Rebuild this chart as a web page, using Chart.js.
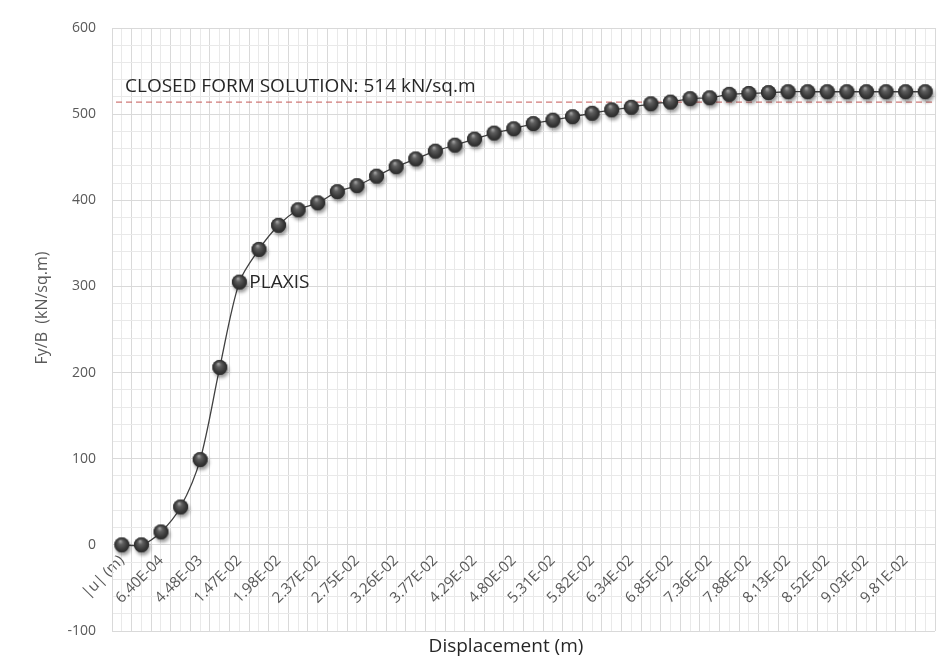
<!DOCTYPE html>
<html>
<head>
<meta charset="utf-8">
<script src="https://cdn.jsdelivr.net/npm/chart.js@4/dist/chart.umd.min.js"></script>
<style>
  html, body { margin: 0; padding: 0; background: #ffffff; }
  #wrap { width: 948px; height: 659px; position: relative; }
</style>
</head>
<body>
<div id="wrap"><canvas id="chart" width="948" height="659"></canvas></div>
<script>
// Displacement tick labels (every second load step carries a label)
const tickLabels = [
  '|u| (m)', '6.40E-04', '4.48E-03', '1.47E-02', '1.98E-02', '2.37E-02', '2.75E-02',
  '3.26E-02', '3.77E-02', '4.29E-02', '4.80E-02', '5.31E-02', '5.82E-02', '6.34E-02',
  '6.85E-02', '7.36E-02', '7.88E-02', '8.13E-02', '8.52E-02', '9.03E-02', '9.81E-02'
];

// PLAXIS footing load Fy/B (kN/sq.m) for each load step
const plaxisLoad = [
  0, 0, 15, 44, 99, 206, 305, 343, 371, 389, 397, 410, 417, 428,
  439, 448, 457, 464, 471, 478, 483, 489, 493, 497, 501, 505, 508, 512,
  514, 518, 519, 523, 524, 525, 526, 526, 526, 526, 526, 526, 526, 526
];

// Closed-form bearing capacity (kN/sq.m)
const closedForm = 514;

// Category list: one entry per load step, labelled on even steps
const categories = plaxisLoad.map((_, i) => (i % 2 === 0 ? (tickLabels[i / 2] || '') : ''));

const FONT = "'Open Sans', 'DejaVu Sans', sans-serif";

// Shaded sphere marker with a soft drop shadow
function makeSphere(r) {
  const size = Math.ceil(r * 2 + 12);
  const cv = document.createElement('canvas');
  cv.width = size; cv.height = size;
  const g = cv.getContext('2d');
  const c = size / 2;
  g.save();
  g.shadowColor = 'rgba(0,0,0,0.4)';
  g.shadowBlur = 3.5;
  g.shadowOffsetX = 1.5;
  g.shadowOffsetY = 3;
  g.beginPath(); g.arc(c, c, r, 0, Math.PI * 2);
  g.fillStyle = '#353535'; g.fill();
  g.restore();
  const grad = g.createRadialGradient(c - r * 0.2, c - r * 0.5, r * 0.05, c, c, r);
  grad.addColorStop(0, '#a4a4a4');
  grad.addColorStop(0.3, '#5e5e5e');
  grad.addColorStop(0.75, '#383838');
  grad.addColorStop(1, '#2a2a2a');
  g.beginPath(); g.arc(c, c, r, 0, Math.PI * 2);
  g.fillStyle = grad; g.fill();
  return cv;
}
const sphere = makeSphere(7.5);

// Reference line behind the curve, texts on top
const overlay = {
  id: 'overlay',
  beforeDatasetsDraw(chart) {
    const { ctx, chartArea, scales } = chart;
    const y = scales.y.getPixelForValue(closedForm);
    ctx.save();
    ctx.strokeStyle = 'rgba(196, 89, 86, 0.8)';
    ctx.lineWidth = 1.4;
    ctx.setLineDash([6, 4]);
    ctx.beginPath();
    ctx.moveTo(chartArea.left + 4, y);
    ctx.lineTo(chartArea.right - 2, y);
    ctx.stroke();
    ctx.restore();
  },
  afterDraw(chart) {
    const { ctx, chartArea, scales } = chart;
    ctx.save();
    // closed-form caption above the dashed line
    const yRef = scales.y.getPixelForValue(closedForm);
    ctx.fillStyle = '#262626';
    ctx.font = '19px ' + FONT;
    ctx.textAlign = 'left';
    ctx.textBaseline = 'middle';
    ctx.fillText('CLOSED FORM SOLUTION: ' + closedForm + ' kN/sq.m', chartArea.left + 13, yRef - 15);

    // series label next to the 7th point
    const pt = chart.getDatasetMeta(0).data[6];
    ctx.fillText('PLAXIS', pt.x + 10, pt.y);

    // axis titles
    ctx.fillStyle = '#262626';
    ctx.font = '19px ' + FONT;
    ctx.textAlign = 'center';
    ctx.fillText('Displacement (m)', 506, 647);

    ctx.fillStyle = '#595959';
    ctx.font = '16px ' + FONT;
    ctx.translate(42, 308);
    ctx.rotate(-Math.PI / 2);
    ctx.fillText('Fy/B  (kN/sq.m)', 0, 0);
    ctx.restore();
  }
};

new Chart(document.getElementById('chart').getContext('2d'), {
  type: 'line',
  data: {
    labels: categories,
    datasets: [{
      label: 'PLAXIS',
      data: plaxisLoad,
      borderColor: '#404040',
      borderWidth: 1.3,
      tension: 0.3,
      fill: false,
      pointStyle: sphere,
      pointRadius: 7.5,
      pointHoverRadius: 7.5,
      clip: false
    }]
  },
  options: {
    responsive: false,
    animation: false,
    devicePixelRatio: 1,
    layout: { padding: { left: 0, top: 28, right: 13, bottom: 28 } },
    plugins: { legend: { display: false }, tooltip: { enabled: false } },
    scales: {
      x: {
        type: 'category',
        position: { y: 0 },
        offset: true,
        grid: { offset: true, color: '#d9d9d9', drawTicks: false },
        border: { color: '#d9d9d9' },
        ticks: {
          autoSkip: false,
          minRotation: 45,
          maxRotation: 45,
          padding: 7,
          color: '#595959',
          font: { family: FONT, size: 15 },
          callback: (v, i) => categories[i]
        },
        afterFit(s) { s.paddingLeft = 0; s.paddingRight = 0; }
      },
      xc: {
        type: 'category',
        axis: 'x',
        position: { y: 0 },
        offset: true,
        grid: { offset: false, color: '#e9e9e9', drawTicks: false },
        border: { display: false },
        ticks: { display: false },
        afterFit(s) { s.paddingLeft = 0; s.paddingRight = 0; }
      },
      y: {
        min: -100,
        max: 600,
        ticks: {
          stepSize: 20,
          autoSkip: false,
          padding: 16,
          color: '#595959',
          font: { family: FONT, size: 14 },
          callback: v => (v % 100 === 0 ? v : '')
        },
        grid: {
          color: c => (c.tick && c.tick.value % 100 === 0 ? '#d9d9d9' : '#e9e9e9'),
          drawTicks: false
        },
        border: { color: '#d9d9d9' },
        afterFit(s) { s.width = 112; }
      }
    }
  },
  plugins: [overlay]
});
</script>
</body>
</html>
